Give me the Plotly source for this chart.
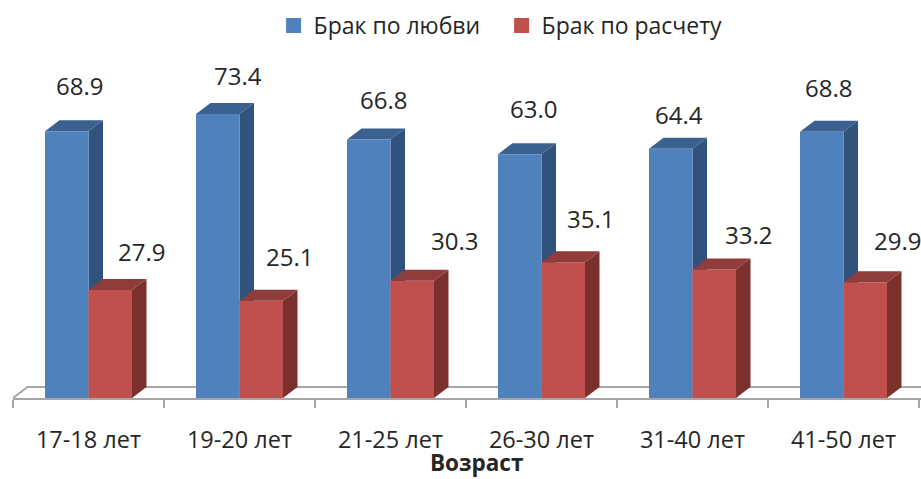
import plotly.graph_objects as go

ages = ["17-18 лет", "19-20 лет", "21-25 лет", "26-30 лет", "31-40 лет", "41-50 лет"]
love = [68.9, 73.4, 66.8, 63.0, 64.4, 68.8]
calc = [27.9, 25.1, 30.3, 35.1, 33.2, 29.9]
love_name = "Брак по любви"
calc_name = "Брак по расчету"
axis_title = "Возраст"

# layout constants (pixels)
W, H = 921, 479
LEFT, BASE = 13, 398
PX_PER_CAT, PX_PER_UNIT = 151.0, 3.87
DEPTH_X, DEPTH_Y = 14.5 / PX_PER_CAT, 11 / PX_PER_UNIT
BAR_W = 43.5 / PX_PER_CAT
FONT = "Open Sans"
TEXT = "#262626"
AXIS = "#a6a6a6"
BLUE, RED = "#4f81bd", "#c0504d"

# manual label displacement, relative to the top centre of each bar
love_dx = [13, 20, 15, 14, 8, 7]
love_dy = [46, 38, 40, 46, 34, 44]
calc_dx = [31, 28, 42, 27, 34, 32]
calc_dy = [39, 44, 40, 44, 35, 42]

x_max = (W - LEFT) / PX_PER_CAT
y_max = BASE / PX_PER_UNIT
n = len(ages)
mid = [i + 0.5 for i in range(n)]
fig = go.Figure()


def faces(values, sign, side, top, xa, ya):
    """Side and top faces of the 3-D bars derived from the values."""
    sx, sy, tx, ty = [], [], [], []
    for m, v in zip(mid, values):
        a = m + sign * BAR_W if sign < 0 else m
        b = m if sign < 0 else m + sign * BAR_W
        sx += [b, b + DEPTH_X, b + DEPTH_X, b, b, None]
        sy += [0, DEPTH_Y, v + DEPTH_Y, v, 0, None]
        tx += [a, a + DEPTH_X, b + DEPTH_X, b, a, None]
        ty += [v, v + DEPTH_Y, v + DEPTH_Y, v, v, None]
    for px, py, col in ((sx, sy, side), (tx, ty, top)):
        fig.add_trace(go.Scatter(x=px, y=py, mode="lines", fill="toself", fillcolor=col,
                                 line=dict(width=0, color=col), hoverinfo="skip",
                                 showlegend=False, xaxis=xa, yaxis=ya))


# floor outline
fig.add_trace(go.Scatter(x=[0, DEPTH_X, x_max], y=[0, DEPTH_Y, DEPTH_Y], mode="lines",
                         line=dict(color=AXIS, width=2), hoverinfo="skip", showlegend=False))
faces(love, -1, "#30527d", "#3a6190", "x", "y")

fig.add_trace(go.Bar(x=[m - BAR_W / 2 for m in mid], y=love, width=BAR_W, name=love_name,
                     marker=dict(color=BLUE, line=dict(width=0)), xaxis="x2", yaxis="y2",
                     showlegend=False))
fig.add_trace(go.Bar(x=[m + BAR_W / 2 for m in mid], y=calc, width=BAR_W, name=calc_name,
                     marker=dict(color=RED, line=dict(width=0)), xaxis="x2", yaxis="y2",
                     showlegend=False))
faces(calc, 1, "#7b302e", "#903c3a", "x2", "y2")

# legend entries with the reference's larger square swatches
for name, col in ((love_name, BLUE), (calc_name, RED)):
    fig.add_trace(go.Scatter(x=[None], y=[None], mode="markers", name=name,
                             marker=dict(symbol="square", size=15, color=col)))

ann = []
for i, m in enumerate(mid):
    ann.append(dict(x=m - BAR_W / 2, y=love[i], text=f"{love[i]:.1f}", showarrow=False,
                    xref="x", yref="y", xshift=love_dx[i], yshift=love_dy[i],
                    font=dict(size=24, color=TEXT)))
    ann.append(dict(x=m + BAR_W / 2, y=calc[i], text=f"{calc[i]:.1f}", showarrow=False,
                    xref="x", yref="y", xshift=calc_dx[i], yshift=calc_dy[i],
                    font=dict(size=24, color=TEXT)))
ann.append(dict(x=(476 - LEFT) / (W - LEFT), y=(BASE - 462) / BASE, xref="paper", yref="paper",
                text=f"<b>{axis_title}</b>", showarrow=False, yanchor="middle",
                font=dict(size=22.5, color=TEXT)))

fig.update_layout(
    width=W, height=H, autosize=False,
    margin=dict(l=LEFT, r=0, t=0, b=H - BASE),
    paper_bgcolor="white", plot_bgcolor="white",
    font=dict(family=FONT, size=23, color=TEXT),
    barmode="overlay", annotations=ann,
    showlegend=True,
    legend=dict(orientation="h", x=0.287, xanchor="left", y=0.99, yanchor="top",
                font=dict(size=23, color=TEXT), bgcolor="rgba(0,0,0,0)",
                entrywidth=183, entrywidthmode="pixels", traceorder="normal"),
    xaxis=dict(range=[0, x_max], tickmode="array", tickvals=mid, ticktext=ages, ticks="",
               showgrid=False, zeroline=False, showline=True, linecolor=AXIS, linewidth=2,
               ticklabelstandoff=20, tickfont=dict(size=23.5, color=TEXT),
               minor=dict(tickmode="array", tickvals=list(range(n + 1)), ticks="outside",
                          ticklen=8, tickwidth=2, tickcolor=AXIS, showgrid=False)),
    yaxis=dict(range=[0, y_max], visible=False),
    xaxis2=dict(range=[0, x_max], overlaying="x", visible=False),
    yaxis2=dict(range=[0, y_max], overlaying="y", visible=False),
)
fig.write_html("out.html", post_script="document.body.style.margin='0';",
               config=dict(displayModeBar=False))
